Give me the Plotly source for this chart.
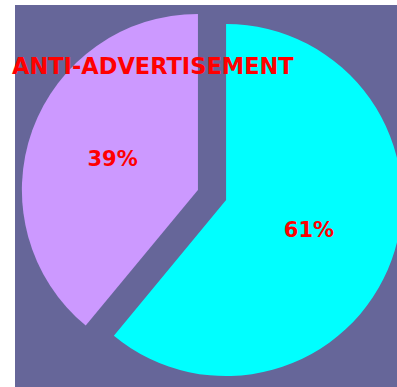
import plotly.graph_objects as go

labels = ["Yes", "No"]
values = [61, 39]
colors = ["#00ffff", "#cc99ff"]
title_text = "ANTI-ADVERTISEMENT"

W, H = 410, 387  # page is 397 wide; the right part of the pie runs off the edge

fig = go.Figure(go.Pie(
    labels=labels,
    values=values,
    marker=dict(colors=colors, line=dict(width=0)),
    sort=False,
    direction="clockwise",
    rotation=0,
    pull=[0.085, 0.085],
    textinfo="percent",
    textposition="inside",
    insidetextorientation="horizontal",
    textfont=dict(family="DejaVu Sans", size=21, color="#ff0000", weight="bold"),
    hoverinfo="skip",
    domain=dict(x=[21 / W, 403 / W], y=[1 - 386 / H, 1 - 4 / H]),
    showlegend=False,
))

fig.update_layout(
    width=W, height=H,
    margin=dict(l=0, r=0, t=0, b=0),
    paper_bgcolor="#ffffff",
    shapes=[dict(type="rect", xref="paper", yref="paper",
                 x0=15 / W, x1=1.0, y0=0.0, y1=1 - 5 / H,
                 fillcolor="#666699", line=dict(width=0), layer="below")],
    title=dict(text=title_text, x=12 / W, xanchor="left", y=1 - 66 / H, yanchor="middle",
               font=dict(family="DejaVu Sans", size=22.5, color="#ff0000", weight="bold")),
)

fig.write_html(
    "out.html",
    config={"displayModeBar": False},
    post_script="document.body.style.margin='0';document.body.style.overflow='hidden';",
)
